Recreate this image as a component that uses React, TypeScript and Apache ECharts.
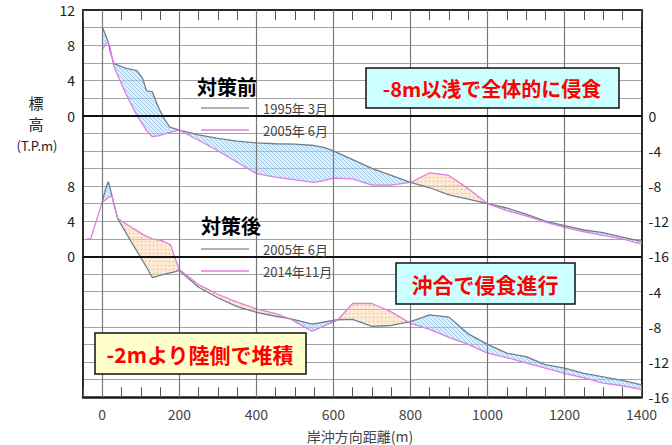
import React, { useEffect, useRef } from 'react';
import * as echarts from 'echarts';

// ---- 対策前 (top profile) ----
const topX = [0, 10, 15, 20, 30, 60, 90, 105, 115, 130, 145, 160, 175, 200, 250, 300, 350, 400, 450, 500, 550, 575, 600, 650, 700, 750, 800, 850, 900, 950, 1000, 1050, 1100, 1150, 1200, 1250, 1300, 1350, 1400];
const top1995 = [10.1, 9.0, 8.4, 7.4, 5.9, 5.4, 5.1, 4.2, 2.8, 2.7, 1.0, -0.3, -1.3, -1.65, -2.2, -2.6, -2.9, -3.1, -3.2, -3.25, -3.4, -3.6, -4.0, -5.0, -6.0, -6.8, -7.6, -8.2, -9.0, -9.5, -10.0, -10.5, -11.2, -12.0, -12.5, -13.0, -13.3, -13.8, -14.3];
const top2005 = [7.5, 8.2, 8.4, 7.8, 5.6, 2.6, 0.0, -1.0, -1.7, -2.4, -2.3, -2.1, -1.9, -1.65, -2.8, -4.0, -5.3, -6.6, -7.0, -7.3, -7.6, -7.4, -7.1, -7.2, -7.9, -7.9, -7.6, -6.5, -6.8, -8.3, -10.0, -10.8, -11.4, -12.1, -12.7, -13.2, -13.6, -14.0, -14.6];

// ---- 対策後 (bottom profile) ----
const botX = [-40, -30, 0, 8, 16, 25, 30, 40, 80, 105, 130, 155, 178, 185, 200, 250, 300, 350, 400, 450, 490, 545, 610, 650, 700, 750, 800, 850, 900, 950, 1000, 1050, 1100, 1150, 1200, 1250, 1300, 1350, 1400];
const bot2005 = [null, null, 6.2, 7.6, 8.5, 6.9, 6.0, 4.3, 1.3, -0.5, -2.4, -2.1, -1.85, -1.8, -1.6, -3.5, -4.7, -5.7, -6.35, -6.8, -7.1, -7.7, -7.2, -7.15, -7.95, -7.85, -7.4, -6.65, -6.9, -8.8, -10.0, -11.0, -11.4, -12.3, -12.7, -13.3, -13.7, -14.1, -14.6];
const bot2014 = [2.0, 2.0, 6.2, 6.4, 6.7, 6.9, 6.0, 4.3, 3.2, 2.5, 2.0, 1.8, 1.3, 0.3, -1.5, -3.2, -4.3, -5.2, -5.95, -6.5, -7.15, -8.5, -7.25, -5.35, -5.35, -6.3, -7.6, -8.3, -9.2, -10.0, -11.0, -11.5, -12.1, -12.7, -13.3, -13.8, -14.4, -14.7, -15.1];

// ---- tick labels ----
const xLabelValues = [0, 200, 400, 600, 800, 1000, 1200, 1400];
const xGridValues = [0, 200, 400, 600, 800, 1000, 1200];
const topLeftLabels = [12, 8, 4, 0];
const topRightLabels = [0, -4, -8, -12, -16];
const botLeftLabels = [8, 4, 0];
const botRightLabels = [-4, -8, -12, -16];

const CJK = '"Noto Sans CJK JP", "Noto Sans", sans-serif';
const GRAY = '#6f7f8a';
const PINK = '#e07ee0';

function makePattern(bg: string, fg: string, kind: string) {
  const c = document.createElement('canvas');
  c.width = 4; c.height = 4;
  const g = c.getContext('2d')!;
  g.fillStyle = bg; g.fillRect(0, 0, 4, 4);
  if (kind === 'hatch') {
    g.strokeStyle = fg; g.lineWidth = 0.8;
    g.beginPath(); g.moveTo(-1, -1); g.lineTo(5, 5); g.stroke();
  } else {
    g.fillStyle = fg; g.fillRect(1, 1, 1, 1);
  }
  return { image: c.toDataURL(), repeat: 'repeat', imageWidth: 4, imageHeight: 4 };
}

function fillShapes(api: any, xs: number[], older: (number | null)[], newer: (number | null)[], blue: any, orange: any) {
  const shapes: any[] = [];
  let A: number[][] = [], B: number[][] = [], sign = 0;
  const flush = () => {
    if (A.length >= 2 && sign !== 0) {
      shapes.push({ type: 'polygon', shape: { points: A.concat(B.slice().reverse()) }, style: { fill: sign > 0 ? blue : orange, stroke: null } });
    }
    A = []; B = []; sign = 0;
  };
  let prev = -1;
  for (let i = 0; i < xs.length; i++) {
    const a = older[i], b = newer[i];
    if (a == null || b == null) { flush(); prev = -1; continue; }
    const pa = api.coord([xs[i], a]);
    const pb = api.coord([xs[i], b]);
    const s = Math.sign(a - b);
    if (prev >= 0 && sign !== 0 && s !== 0 && s !== sign) {
      const d0 = (older[prev] as number) - (newer[prev] as number);
      const d1 = a - b;
      const t = d0 / (d0 - d1);
      const pc = api.coord([xs[prev] + t * (xs[i] - xs[prev]), (older[prev] as number) + t * (a - (older[prev] as number))]);
      A.push(pc); B.push(pc); flush(); A = [pc]; B = [pc];
    }
    A.push(pa); B.push(pb);
    if (s !== 0 && sign === 0) sign = s;
    if (s === 0) { flush(); A = [pa]; B = [pb]; }
    prev = i;
  }
  flush();
  return shapes;
}

const fmt = (arr: number[]) => (v: number) => (arr.indexOf(v) >= 0 ? String(v) : '');

export default function App() {
  const ref = useRef<HTMLDivElement>(null);
  useEffect(() => {
    const chart = echarts.init(ref.current!, null, { renderer: 'svg' });
    const blue = makePattern('rgba(190,225,250,0.5)', 'rgba(90,160,220,0.6)', 'hatch');
    const orange = makePattern('rgba(253,216,175,0.55)', 'rgba(225,140,70,0.75)', 'dot');

    const xCommon: any = {
      type: 'value', min: -50, max: 1400, interval: 50,
      splitLine: { show: false },
      axisTick: { show: true, inside: true, length: 10, lineStyle: { color: '#555', width: 1 } },
    };
    const yCommon: any = { type: 'value', min: -16, max: 12, interval: 2, axisTick: { show: false } };
    const labelStyle = { fontSize: 14, color: '#222', fontFamily: CJK };
    const axisLine = { show: true, onZero: false, lineStyle: { color: '#2a2a2a', width: 2 } };
    const split = { show: true, lineStyle: { color: '#a3a3a3', width: 1.2 } };
    const vStyle = { color: '#777', width: 1.2, type: 'solid' };
    const zStyle = { color: '#111', width: 2.2, type: 'solid' };

    const markLineTop = {
      silent: true, symbol: ['none', 'none'], animation: false,
      label: { show: false },
      data: [
        ...xGridValues.map((v) => ({ xAxis: v, lineStyle: vStyle })),
        { yAxis: 0, lineStyle: zStyle },
      ],
    };
    const markLineBot = {
      silent: true, symbol: ['none', 'none'], animation: false,
      label: { show: false },
      data: [
        ...xGridValues.map((v) => [{ coord: [v, -16], lineStyle: vStyle }, { coord: [v, 0] }]),
        { yAxis: 0, lineStyle: zStyle },
      ],
    };

    const legendLine = (y: number, color: string) => ({ type: 'line', shape: { x1: 201, y1: y, x2: 249, y2: y }, style: { stroke: color, lineWidth: 1.3 }, z: 10 });
    const txt = (text: string, x: number, y: number, size: number, opts: any = {}) => ({
      type: 'text', x, y, z: 11,
      style: { text, fill: opts.fill || '#222', font: `${opts.bold ? 'bold ' : ''}${size}px ${CJK}`, textAlign: opts.align || 'center', textVerticalAlign: 'middle' },
    });
    const box = (x: number, y: number, w: number, h: number, fill: string) => ({ type: 'rect', shape: { x, y, width: w, height: h }, style: { fill, stroke: '#111', lineWidth: 1.5 }, z: 10 });

    chart.setOption({
      animation: false,
      backgroundColor: '#ffffff',
      grid: [
        { left: 83, right: 23, top: 10, height: 246.4 },
        { left: 83, right: 23, top: 150.8, height: 246.4 },
      ],
      xAxis: [
        { ...xCommon, gridIndex: 0, position: 'top', axisLine, axisLabel: { show: false } },
        { ...xCommon, gridIndex: 1, position: 'bottom', axisLine: { ...axisLine, lineStyle: { color: '#1a1a1a', width: 2.5 } }, axisLabel: { ...labelStyle, color: '#444', margin: 10, formatter: fmt(xLabelValues) } },
      ],
      yAxis: [
        { ...yCommon, gridIndex: 0, position: 'left', axisLine, splitLine: split, axisLabel: { ...labelStyle, margin: 8, formatter: fmt(topLeftLabels) } },
        { ...yCommon, gridIndex: 0, position: 'right', axisLine, splitLine: { show: false }, axisLabel: { ...labelStyle, margin: 7, formatter: fmt(topRightLabels) } },
        { ...yCommon, gridIndex: 1, position: 'left', axisLine, splitLine: split, axisLabel: { ...labelStyle, margin: 8, formatter: fmt(botLeftLabels) } },
        { ...yCommon, gridIndex: 1, position: 'right', axisLine, splitLine: { show: false }, axisLabel: { ...labelStyle, margin: 7, formatter: fmt(botRightLabels) } },
      ],
      series: [
        {
          type: 'custom', xAxisIndex: 0, yAxisIndex: 0, z: 1, silent: true, data: [[0, 0]],
          renderItem: (_p: any, api: any) => ({ type: 'group', children: fillShapes(api, topX, top1995, top2005, blue, orange) }),
        },
        {
          name: '1995年 3月', type: 'line', xAxisIndex: 0, yAxisIndex: 0, z: 3, symbol: 'none',
          lineStyle: { color: GRAY, width: 1.3 }, data: topX.map((x, i) => [x, top1995[i]]), markLine: markLineTop,
        },
        {
          name: '2005年 6月', type: 'line', xAxisIndex: 0, yAxisIndex: 0, z: 3, symbol: 'none',
          lineStyle: { color: PINK, width: 1.3 }, data: topX.map((x, i) => [x, top2005[i]]),
        },
        {
          type: 'custom', xAxisIndex: 1, yAxisIndex: 2, z: 1, silent: true, data: [[0, 0]],
          renderItem: (_p: any, api: any) => ({ type: 'group', children: fillShapes(api, botX, bot2005, bot2014, blue, orange) }),
        },
        {
          name: '2005年 6月 ', type: 'line', xAxisIndex: 1, yAxisIndex: 2, z: 3, symbol: 'none',
          lineStyle: { color: GRAY, width: 1.3 },
          data: botX.map((x, i) => [x, bot2005[i]]).filter((d) => d[1] != null), markLine: markLineBot,
        },
        {
          name: '2014年11月', type: 'line', xAxisIndex: 1, yAxisIndex: 2, z: 3, symbol: 'none',
          lineStyle: { color: PINK, width: 1.3 }, data: botX.map((x, i) => [x, bot2014[i]]),
        },
      ],
      graphic: [
        txt('標', 36, 102, 15),
        txt('高', 36, 123, 15),
        txt('(T.P.m)', 37, 145, 13),
        txt('対策前', 227, 86, 20, { bold: true, fill: '#000' }),
        legendLine(108, '#8c9aa4'),
        txt('1995年 3月', 263, 108, 13, { align: 'left', fill: '#444' }),
        legendLine(130, PINK),
        txt('2005年 6月', 263, 130, 13, { align: 'left', fill: '#444' }),
        txt('対策後', 231, 225, 20, { bold: true, fill: '#000' }),
        legendLine(249, '#8c9aa4'),
        txt('2005年 6月', 263, 249, 13, { align: 'left', fill: '#444' }),
        legendLine(271, PINK),
        txt('2014年11月', 263, 271, 13, { align: 'left', fill: '#444' }),
        box(366, 68, 253, 40, '#ccffff'),
        txt('-8m以浅で全体的に侵食', 492, 88, 20, { bold: true, fill: '#ff0000' }),
        box(396, 263, 179, 41, '#ccffff'),
        txt('沖合で侵食進行', 485, 284, 21, { bold: true, fill: '#ff0000' }),
        box(95, 333, 211, 41, '#ffffcc'),
        txt('-2mより陸側で堆積', 200, 354, 21, { bold: true, fill: '#ff0000' }),
        txt('岸沖方向距離(m)', 360, 436, 14, { fill: '#444' }),
      ],
    });
    return () => chart.dispose();
  }, []);
  return <div ref={ref} style={{ position: 'absolute', left: 0, top: 0, width: 672, height: 445, background: '#fff' }} />;
}
